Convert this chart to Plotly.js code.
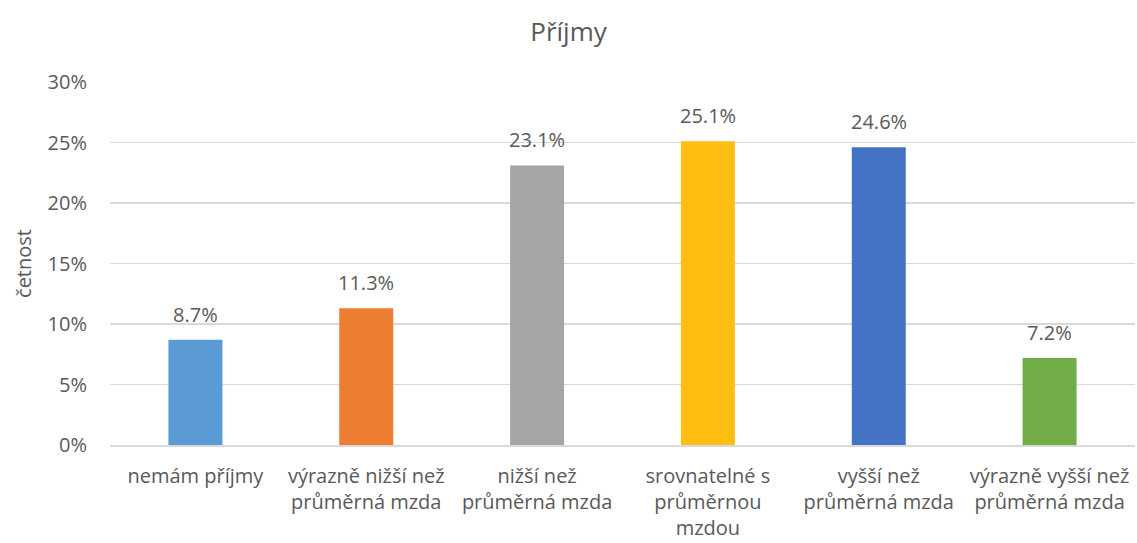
<!DOCTYPE html>
<html>
<head>
<meta charset="utf-8">
<script src="https://cdn.plot.ly/plotly-3.0.1.min.js"></script>
<style>html,body{margin:0;padding:0;background:#fff;}#chart{width:1137px;height:543px;}</style>
</head>
<body>
<div id="chart"></div>
<script>
const categories = [
  "nemám příjmy",
  "výrazně nižší než<br>průměrná mzda",
  "nižší než<br>průměrná mzda",
  "srovnatelné s<br>průměrnou<br>mzdou",
  "vyšší než<br>průměrná mzda",
  "výrazně vyšší než<br>průměrná mzda"
];
const values = [0.087, 0.113, 0.231, 0.251, 0.246, 0.072];
const valueLabels = ["8.7%", "11.3%", "23.1%", "25.1%", "24.6%", "7.2%"];
const colors = ["#5B9BD5", "#ED7D31", "#A5A5A7", "#FEBF12", "#4472C4", "#70AD47"];
const yTicks = [0, 0.05, 0.10, 0.15, 0.20, 0.25, 0.30];
const yTickLabels = ["0%", "5%", "10%", "15%", "20%", "25%", "30%"];

const textColor = "#595959";
const fontFamily = "'Open Sans', 'DejaVu Sans', sans-serif";

const annotations = categories.map((c, i) => ({
  x: c, y: values[i], xref: "x", yref: "y",
  text: valueLabels[i], showarrow: false,
  yanchor: "bottom", yshift: 10,
  font: {family: fontFamily, size: 20, color: textColor}
}));

Plotly.newPlot("chart", [{
  type: "bar",
  x: categories,
  y: values,
  marker: {color: colors},
  hoverinfo: "none"
}], {
  width: 1137,
  height: 543,
  margin: {l: 109.5, r: 1.5, t: 82, b: 98},
  paper_bgcolor: "#ffffff",
  plot_bgcolor: "#ffffff",
  bargap: 0.684,
  font: {family: fontFamily, size: 20, color: textColor},
  title: {text: "Příjmy", font: {family: fontFamily, size: 26, color: textColor}, x: 0.5, xanchor: "center", y: 0.941, yanchor: "middle"},
  annotations: annotations,
  xaxis: {
    tickfont: {family: fontFamily, size: 20, color: textColor},
    showline: true, linecolor: "#D9D9D9", linewidth: 1.5,
    ticks: "", showgrid: false, tickangle: 0,
    ticklabelstandoff: 12
  },
  yaxis: {
    range: [0, 0.30],
    tickvals: yTicks,
    ticktext: yTickLabels,
    tickfont: {family: fontFamily, size: 20, color: textColor},
    showgrid: true, gridcolor: "#D9D9D9", gridwidth: 1.2,
    zeroline: false, showline: false, ticks: "",
    ticklabelstandoff: 22,
    title: {text: "četnost", font: {family: fontFamily, size: 20, color: textColor}, standoff: 10}
  },
  showlegend: false
}, {displayModeBar: false, staticPlot: true});
</script>
</body>
</html>
